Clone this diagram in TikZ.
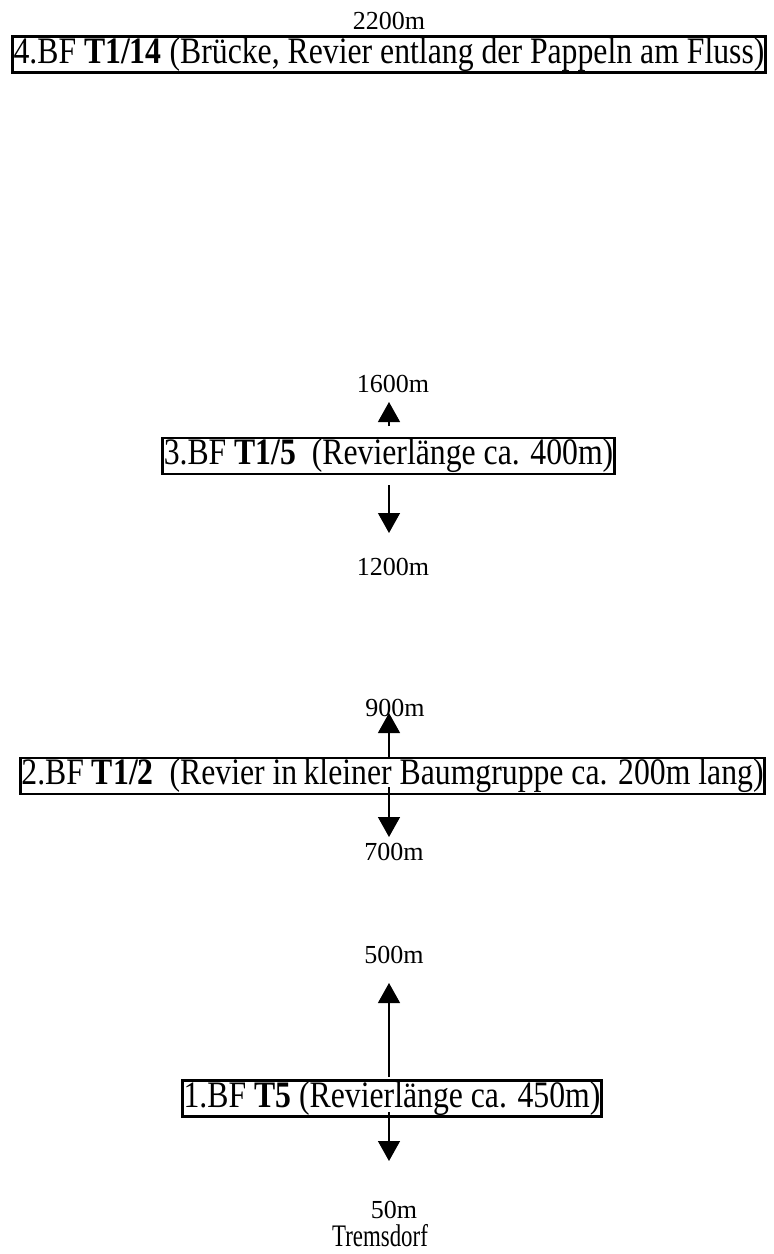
\documentclass[tikz,border=0pt]{standalone}
\usepackage{fontspec}
\setmainfont{Liberation Serif}
\newfontfamily\boxfont[FakeStretch=0.85]{Liberation Serif}
\newfontfamily\townfont[FakeStretch=0.73]{Liberation Serif}
\usetikzlibrary{arrows.meta}
\tikzset{
  bfbox/.style={draw, line width=2.2pt, inner xsep=1pt, inner ysep=0pt,
    minimum height=27pt, font=\boxfont\fontsize{28}{30}\selectfont},
  dist/.style={font=\fontsize{19.5}{21}\selectfont, inner sep=0pt},
  arr/.style={line width=1pt, -{Triangle[length=15pt,width=16.5pt]}}
}
\begin{document}
\begin{tikzpicture}[x=0.75pt,y=-0.75pt]
  \useasboundingbox (0,0) rectangle (774,1254);
  % Beobachtungsflächen, von oben nach unten
  \node[dist] (d2200) at (389,21) {2200m};
  \node[bfbox] (bf4) at (389,54.5) {4.BF \textbf{T1/14} (Brücke, Revier entlang der Pappeln am Fluss)};
  \node[dist] (d1600) at (393,384) {1600m};
  \node[bfbox] (bf3) at (388.5,456) {3.BF \textbf{T1/5}\ \ (Revierlänge ca. 400m)};
  \node[dist] (d1200) at (393,567) {1200m};
  \node[dist] (d900) at (395,708) {900m};
  \node[bfbox] (bf2) at (392.5,776) {2.BF \textbf{T1/2}\ \ (Revier in\,kleiner Baumgruppe ca. 200m lang)};
  \node[dist] (d700) at (394,852) {700m};
  \node[dist] (d500) at (394,955) {500m};
  \node[bfbox] (bf1) at (392,1098.5) {1.BF \textbf{T5} (Revierlänge ca. 450m)};
  \node[dist] (d50) at (394,1210) {50m};
  \node[inner sep=0pt, font=\townfont\fontsize{23.5}{25}\selectfont] (ort) at (380,1236) {Tremsdorf};
  % Pfeilenden
  \coordinate (o3) at (389,426);
  \coordinate (u3a) at (389,485);
  \coordinate (t3o) at (389,402);
  \coordinate (t3u) at (389,533);
  \coordinate (o2) at (389,758);
  \coordinate (u2a) at (389,787);
  \coordinate (t2o) at (389,713);
  \coordinate (t2u) at (389,837);
  \coordinate (o1) at (389,1077);
  \coordinate (u1a) at (389,1112);
  \coordinate (t1o) at (389,983);
  \coordinate (t1u) at (389,1161);
  % Pfeile
  \draw[arr] (o3) -- (t3o);
  \draw[arr] (u3a) -- (t3u);
  \draw[arr] (o2) -- (t2o);
  \draw[arr] (u2a) -- (t2u);
  \draw[arr] (o1) -- (t1o);
  \draw[arr] (u1a) -- (t1u);
\end{tikzpicture}
\end{document}
